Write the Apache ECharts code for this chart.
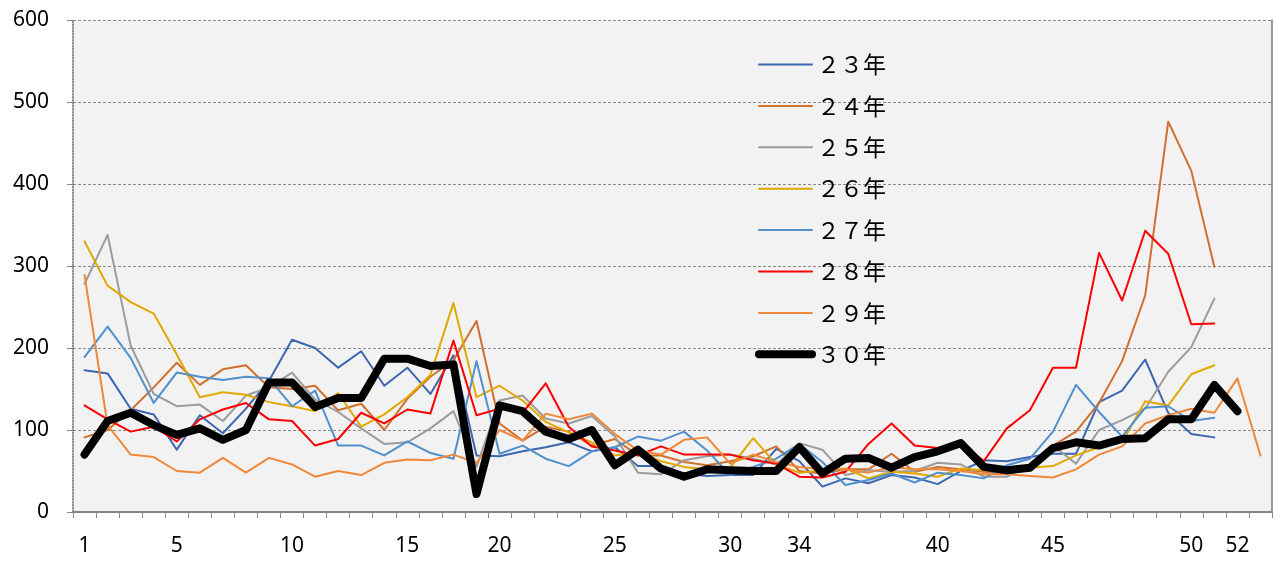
<!DOCTYPE html>
<html>
<head>
<meta charset="utf-8">
<script src="https://cdn.jsdelivr.net/npm/echarts@6/dist/echarts.min.js"></script>
<style>
  html, body { margin: 0; padding: 0; background: #fff; }
  #chart { width: 1274px; height: 563px; }
</style>
</head>
<body>
<div id="chart"></div>
<script>
// ========== データ ==========
// 週 (1..52)
const weeks = ['1','2','3','4','5','6','7','8','9','10','11','12','13','14','15','16','17','18','19','20',
               '21','22','23','24','25','26','27','28','29','30','31','32','33','34','35','36','37','38','39','40',
               '41','42','43','44','45','46','47','48','49','50','51','52'];
// 軸ラベル（元の図のとおりの位置）
const tickIndex = [0, 4, 9, 14, 18, 23, 28, 31, 37, 42, 48, 50];
const tickText  = ['1', '5', '10', '15', '20', '25', '30', '34', '40', '45', '50', '52'];

const yearNames = ['２３年', '２４年', '２５年', '２６年', '２７年', '２８年', '２９年', '３０年'];
const yearColors = ['#3C66B0', '#D0702E', '#9C9C9C', '#E2A800', '#5090CC', '#FF0000', '#F0883A', '#000000'];

const s23 = [173,169,126,119,76,118,96,126,160,210,200,176,196,154,176,144,191,69,68,74,
             79,85,74,79,56,56,47,44,45,45,77,62,31,41,35,45,42,34,50,63,
             62,67,71,71,134,148,186,121,95,91,null,null];
const s24 = [91,100,124,152,182,155,174,179,152,150,154,124,132,100,138,165,185,233,108,87,
             104,98,81,89,69,69,61,57,62,68,80,50,47,52,52,71,49,55,52,49,
             47,57,81,98,133,184,264,476,416,299,null,null];
const s25 = [278,338,203,144,129,131,111,142,152,170,137,122,102,83,85,102,123,55,136,142,
             114,108,117,92,48,46,63,68,70,65,58,84,76,45,51,49,50,60,58,43,
             43,57,81,59,100,112,126,171,201,260,null,null];
const s26 = [330,276,256,242,192,140,146,143,134,129,123,145,104,119,140,167,255,140,154,136,
             110,97,85,69,73,62,55,52,54,90,58,48,51,53,41,49,47,43,53,51,
             50,54,56,69,79,85,135,130,168,179,null,null];
const s27 = [189,226,188,133,170,165,161,165,163,129,148,81,81,69,86,72,65,184,71,81,
             65,56,74,79,92,87,98,75,45,55,65,83,61,33,39,47,36,48,45,41,
             57,65,98,155,122,92,127,129,111,115,null,null];
const s28 = [130,113,98,104,86,113,125,133,113,111,81,89,121,108,125,120,209,118,126,121,
             157,104,80,75,69,80,70,70,70,63,59,43,42,49,83,108,81,78,84,62,
             102,124,176,176,316,258,343,315,229,230,null,null];
const s29 = [289,106,70,67,50,48,66,48,66,58,43,50,45,60,64,63,70,60,100,87,
             120,113,120,95,75,70,88,91,59,70,61,55,52,52,48,55,52,52,50,46,
             46,44,42,52,70,80,108,118,126,121,163,69];
const s30 = [70,111,121,106,94,102,88,100,158,158,128,139,139,187,187,178,180,22,130,123,
             98,89,100,57,76,53,43,52,51,50,50,79,47,65,66,54,67,74,84,55,
             51,54,78,85,81,89,90,113,113,155,123,null];

const allSeries = [s23, s24, s25, s26, s27, s28, s29, s30];

// ========== 描画 ==========
const chart = echarts.init(document.getElementById('chart'));

const axisFont = { fontFamily: 'Noto Sans', fontSize: 21, color: '#000' };

chart.setOption({
  animation: false,
  backgroundColor: '#fff',
  grid: {
    left: 73, right: 2, top: 20, bottom: 51,
    show: true, backgroundColor: '#F2F2F2', borderWidth: 0,
    outerBoundsMode: 'none'
  },
  legend: {
    orient: 'vertical',
    left: 750, top: 48,
    itemWidth: 53, itemHeight: 24, itemGap: 18.4,
    selectedMode: false,
    textStyle: { fontFamily: 'Noto Sans CJK JP', fontSize: 23, color: '#000' },
    data: yearNames.map((n, i) => ({
      name: n,
      // 凡例は線だけ（丸は出さない）
      itemStyle: { color: 'rgba(0,0,0,0)', borderWidth: 0 },
      lineStyle: { width: i === 7 ? 8 : 2, cap: 'round', color: yearColors[i] }
    }))
  },
  xAxis: {
    type: 'category',
    data: weeks,
    boundaryGap: true,
    axisLine: { show: true, lineStyle: { color: '#868686', width: 2 } },
    axisTick: { show: true, interval: 0, length: 6, lineStyle: { color: '#868686' } },
    axisLabel: {
      interval: 0, margin: 24, ...axisFont,
      formatter: (v, idx) => {
        const p = tickIndex.indexOf(idx);
        return p >= 0 ? tickText[p] : '';
      }
    },
    splitLine: { show: false }
  },
  yAxis: [
    {
      type: 'value', min: 0, max: 600, interval: 100,
      axisLine: { show: true, lineStyle: { color: '#6f6f6f', type: 'dotted', width: 1.5 } },
      axisTick: { show: true, length: 6, lineStyle: { color: '#868686' } },
      axisLabel: { margin: 24, ...axisFont },
      splitLine: { show: true, lineStyle: { color: '#8a8a8a', type: [3, 2], width: 1 } }
    },
    {
      type: 'value', min: 0, max: 600, interval: 100, position: 'right',
      axisLine: { show: true, lineStyle: { color: '#7a7a7a', width: 1.5 } },
      axisTick: { show: false }, axisLabel: { show: false }, splitLine: { show: false }
    }
  ],
  series: allSeries.map((d, i) => ({
    name: yearNames[i],
    type: 'line',
    data: d,
    symbol: 'none',
    color: yearColors[i],
    lineStyle: { width: i === 7 ? 8 : 2, color: yearColors[i], cap: 'round', join: 'round' },
    z: 2 + i
  }))
});
</script>
</body>
</html>
